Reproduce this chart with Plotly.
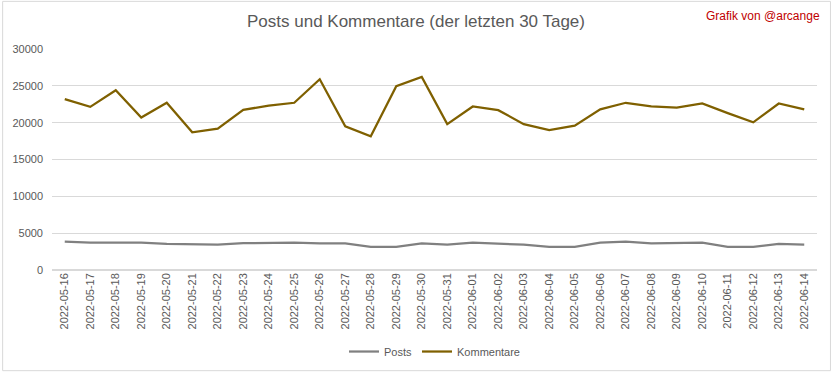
import plotly.graph_objects as go

dates = ["2022-05-16", "2022-05-17", "2022-05-18", "2022-05-19", "2022-05-20",
         "2022-05-21", "2022-05-22", "2022-05-23", "2022-05-24", "2022-05-25",
         "2022-05-26", "2022-05-27", "2022-05-28", "2022-05-29", "2022-05-30",
         "2022-05-31", "2022-06-01", "2022-06-02", "2022-06-03", "2022-06-04",
         "2022-06-05", "2022-06-06", "2022-06-07", "2022-06-08", "2022-06-09",
         "2022-06-10", "2022-06-11", "2022-06-12", "2022-06-13", "2022-06-14"]

posts = [3850, 3700, 3700, 3700, 3550, 3450, 3450, 3650, 3700, 3700,
         3600, 3600, 3150, 3150, 3600, 3450, 3700, 3600, 3450, 3150,
         3150, 3700, 3850, 3600, 3600, 3700, 3150, 3150, 3550, 3450]

kommentare = [23200, 22150, 24400, 20700, 22700, 18700, 19200, 21750, 22300, 22700,
              25900, 19500, 18150, 24950, 26200, 19800, 22200, 21700, 19800, 19000,
              19600, 21800, 22700, 22200, 22050, 22600, 21300, 20050, 22600, 21800]

FONT = "Liberation Sans, Arial, sans-serif"
W, H = 832, 378
ML, MR, MT, MB = 50, 15, 49, 104

fig = go.Figure()
fig.add_trace(go.Scatter(x=dates, y=posts, mode="lines", name="Posts",
                         line=dict(color="#808080", width=2.25)))
fig.add_trace(go.Scatter(x=dates, y=kommentare, mode="lines", name="Kommentare",
                         line=dict(color="#7F6000", width=2.25)))

fig.update_layout(
    width=W, height=H,
    margin=dict(l=ML, r=MR, t=MT, b=MB),
    paper_bgcolor="white", plot_bgcolor="white",
    font=dict(family=FONT, color="#595959", size=11),
    title=dict(text="Posts und Kommentare (der letzten 30 Tage)",
               x=0.5, xanchor="center", y=1 - 21 / H, yanchor="middle",
               font=dict(family=FONT, size=17, color="#595959")),
    legend=dict(orientation="h", x=0.5, xanchor="center", y=-(357 - 274) / (H - MT - MB),
                yanchor="middle", font=dict(size=11, color="#595959"),
                itemwidth=30),
    xaxis=dict(type="category", range=[-0.5, len(dates) - 0.5], tickangle=-90,
               showgrid=False, showline=False, zeroline=False, ticks="",
               tickfont=dict(size=11, color="#595959")),
    yaxis=dict(range=[0, 30000], dtick=5000, tickformat="d", showgrid=True,
               gridcolor="#D9D9D9", gridwidth=1, zeroline=True, zerolinecolor="#D9D9D9",
               showline=False, ticks="", tickfont=dict(size=11, color="#595959"),
               ticklabelstandoff=8),
    showlegend=True,
)

pw = W - ML - MR
ph = H - MT - MB
fig.add_shape(type="rect", xref="paper", yref="paper",
              x0=-(ML - 0.5) / pw, x1=1 + (MR - 1.5) / pw,
              y0=-(MB - 1.5) / ph, y1=1 + (MT - 0.5) / ph,
              line=dict(color="#D9D9D9", width=1), fillcolor="rgba(0,0,0,0)", layer="below")

fig.add_annotation(text="Grafik von @arcange", xref="paper", yref="paper",
                   x=1 + (MR - 10) / pw, xanchor="right", y=1 + (MT - 15) / ph, yanchor="middle",
                   showarrow=False, font=dict(family=FONT, size=12, color="#C00000"))

fig.write_html("out.html", config={"displayModeBar": False},
               post_script="document.body.style.margin='0';document.body.style.overflow='hidden';")
